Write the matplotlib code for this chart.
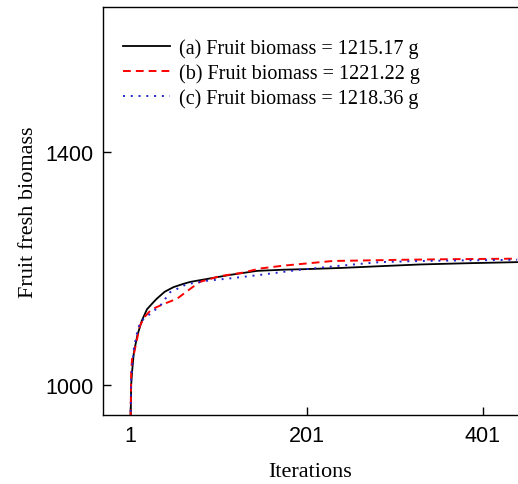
import numpy as np
import matplotlib
matplotlib.use("Agg")
import matplotlib.pyplot as plt

# values
iter_a = [1, 2, 3, 5, 9, 14, 20, 26, 31, 40, 50, 60, 69, 88, 114, 145, 175, 201, 240, 284, 330, 380, 440]
bio_a = [900, 1000, 1022, 1055, 1085, 1110, 1130, 1140, 1148, 1160, 1168, 1173, 1177, 1182, 1189, 1196, 1198, 1199, 1201, 1204, 1207, 1209, 1211]

iter_b = [1, 2, 3, 5, 7, 12, 18, 24, 30, 39, 54, 69, 80, 103, 129, 148, 175, 231, 270, 307, 360, 440]
bio_b = [900, 1020, 1045, 1052, 1067, 1102, 1118, 1128, 1133, 1139, 1148, 1165, 1177, 1187, 1193, 1200, 1205, 1213, 1214, 1215, 1216, 1217]

iter_c = [1, 2, 3, 5, 10, 16, 26, 35, 46, 65, 88, 114, 148, 194, 240, 284, 330, 380, 440]
bio_c = [900, 1010, 1030, 1062, 1099, 1113, 1125, 1136, 1159, 1173, 1179, 1183, 1189, 1198, 1205, 1211, 1213, 1214, 1215]

labels = ["(a) Fruit biomass = 1215.17 g",
          "(b) Fruit biomass = 1221.22 g",
          "(c) Fruit biomass = 1218.36 g"]

fig = plt.figure(figsize=(5.18, 4.85), dpi=100)
ax = fig.add_axes([0.1988, 0.1423, 0.8012, 0.8412])

ax.plot(iter_a, bio_a, color="black", lw=1.3, ls="-", label=labels[0])
ax.plot(iter_b, bio_b, color="red", lw=1.4, ls=(0, (4, 2.6)), label=labels[1])
ax.plot(iter_c, bio_c, color="#2222cc", lw=1.4, ls=(0, (1, 3)), label=labels[2])

ax.set_xlim(-30, 441)
ax.set_ylim(948, 1650)
ax.set_xticks([1, 201, 401])
ax.set_yticks([1000, 1400])
ax.tick_params(direction="in", length=6, width=1, labelsize=15.5, pad=7)
for lab in ax.get_xticklabels() + ax.get_yticklabels():
    lab.set_family("Liberation Sans")
ax.spines["right"].set_visible(False)
for s in ["left", "bottom", "top"]:
    ax.spines[s].set_linewidth(1.0)

ax.set_xlabel("Iterations", family="Liberation Serif", fontsize=16, labelpad=12)
ax.set_ylabel("Fruit fresh biomass", family="Liberation Serif", fontsize=16, labelpad=5)

leg = ax.legend(loc="upper left", bbox_to_anchor=(0.028, 0.944), frameon=False,
                prop={"family": "Liberation Serif", "size": 14.5},
                handlelength=2.35, handletextpad=0.45, labelspacing=0.27,
                borderaxespad=0)

fig.savefig("out.png", dpi=100)
